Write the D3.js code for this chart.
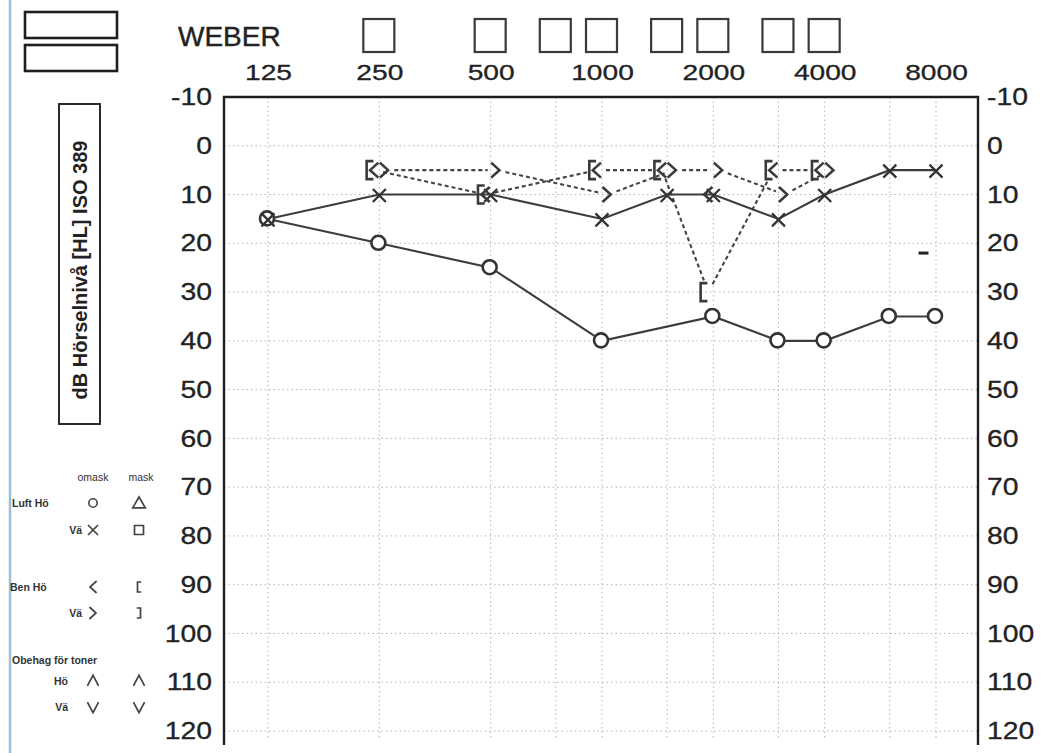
<!DOCTYPE html>
<html>
<head>
<meta charset="utf-8">
<script src="https://cdn.jsdelivr.net/npm/d3@7"></script>
<style>
  html, body { margin: 0; padding: 0; background: #fff; }
  svg { display: block; font-family: "Liberation Sans", Arial, sans-serif; }
</style>
</head>
<body>
<script>
// ---- Audiogram data ----
const freqLabels = [125, 250, 500, 1000, 2000, 4000, 8000];
const gridFreqs = [125, 250, 500, 750, 1000, 1500, 2000, 3000, 4000, 6000, 8000];
const dbTicks = [-10, 0, 10, 20, 30, 40, 50, 60, 70, 80, 90, 100, 110, 120];
const weberFreqs = [250, 500, 750, 1000, 1500, 2000, 3000, 4000];

// Air conduction, right ear (Hö) – circles
const airRightFreq = [125, 250, 500, 1000, 2000, 3000, 4000, 6000, 8000];
const airRightDb   = [15, 20, 25, 40, 35, 40, 40, 35, 35];

// Air conduction, left ear (Vä) – crosses
const airLeftFreq = [125, 250, 500, 1000, 1500, 2000, 3000, 4000, 6000, 8000];
const airLeftDb   = [15, 10, 10, 15, 10, 10, 15, 10, 5, 5];

// Bone conduction, right ear unmasked "<"
const boneRightFreq = [250, 500, 1000, 1500, 2000, 3000, 4000];
const boneRightDb   = [5, 10, 5, 5, 10, 5, 5];
// Bone conduction, right ear masked "["
const boneRightMaskFreq = [250, 500, 1000, 1500, 2000, 3000, 4000];
const boneRightMaskDb   = [5, 10, 5, 5, 30, 5, 5];
// Bone conduction, left ear unmasked ">"
const boneLeftFreq = [250, 500, 1000, 1500, 2000, 3000, 4000];
const boneLeftDb   = [5, 5, 10, 5, 5, 10, 5];

// Loose pen mark on the form
const penMarkFreq = [7400];
const penMarkDb = [22];

const titleBoxLabel = "dB Hörselnivå [HL] ISO 389";
const weberLabel = "WEBER";
const legendHeader = ["omask", "mask"];
const legendRows = [
  { label: "Luft Hö", symbols: ["circle", "triangle"] },
  { label: "Vä", symbols: ["cross", "square"] },
  { label: "Ben Hö", symbols: ["lt", "bracketL"] },
  { label: "Vä", symbols: ["gt", "bracketR"] },
  { label: "Hö", symbols: ["caret", "caret"] },
  { label: "Vä", symbols: ["vee", "vee"] }
];
const legendSection = "Obehag för toner";

// ---- Layout ----
const W = 1044, H = 753;
const plot = { left: 224, right: 978, top: 97, bottom: 745 };
const ink = "#222";

const x = d3.scaleLog().base(2).domain([125, 8000]).range([268, 936]);
const y = d3.scaleLinear().domain([-10, 120]).range([97, 731]);

const svg = d3.select("body").append("svg")
  .attr("width", W).attr("height", H);

svg.append("rect").attr("width", W).attr("height", H).attr("fill", "#fff");

// page edge line
svg.append("line").attr("x1", 10).attr("x2", 10).attr("y1", 0).attr("y2", H)
  .attr("stroke", "#9fbfd2").attr("stroke-width", 2.5);

// two empty header boxes
[[25, 12], [25, 45]].forEach(([bx, by]) => {
  svg.append("rect").attr("x", bx).attr("y", by).attr("width", 92).attr("height", 26)
    .attr("fill", "none").attr("stroke", "#1e1e1e").attr("stroke-width", 2.6);
});

// Weber label and boxes
svg.append("text").attr("x", 178).attr("y", 46).attr("font-size", 28)
  .attr("fill", ink).attr("stroke", ink).attr("stroke-width", 0.4).text(weberLabel);
svg.append("g").selectAll("rect").data(weberFreqs).join("rect")
  .attr("x", d => x(d) - 16).attr("y", 19).attr("width", 31).attr("height", 33)
  .attr("fill", "none").attr("stroke", "#3a3a3a").attr("stroke-width", 2.2);

// ---- Grid ----
const grid = svg.append("g").attr("stroke", "#b5b5b5").attr("stroke-width", 1)
  .attr("stroke-dasharray", "1.5,3");
grid.selectAll("line.v").data(gridFreqs).join("line").attr("class", "v")
  .attr("x1", d => x(d)).attr("x2", d => x(d))
  .attr("y1", plot.top).attr("y2", y(120) + 8);
grid.selectAll("line.h").data(dbTicks.filter(d => d > -10)).join("line").attr("class", "h")
  .attr("x1", plot.left).attr("x2", plot.right)
  .attr("y1", d => y(d)).attr("y2", d => y(d));

// frame
svg.append("path")
  .attr("d", `M${plot.left},${plot.bottom}V${plot.top}H${plot.right}V${plot.bottom}`)
  .attr("fill", "none").attr("stroke", "#1e1e1e").attr("stroke-width", 2.4);

// ---- Axes ----
const plain = d => String(d);

const topAxis = svg.append("g").attr("transform", "translate(0,80)")
  .call(d3.axisTop(x).tickValues(freqLabels).tickFormat(plain).tickSize(0).tickPadding(0));
topAxis.select(".domain").remove();
topAxis.selectAll("text").attr("font-size", 22).attr("fill", ink)
  .attr("stroke", ink).attr("stroke-width", 0.3)
  .attr("font-family", "Liberation Sans, Arial, sans-serif")
  .attr("transform", "scale(1.28,1)");

const leftAxis = svg.append("g").attr("transform", "translate(212,0)")
  .call(d3.axisLeft(y).tickValues(dbTicks).tickFormat(plain).tickSize(0).tickPadding(0));
leftAxis.select(".domain").remove();
leftAxis.selectAll("text").attr("font-size", 24).attr("fill", ink)
  .attr("stroke", ink).attr("stroke-width", 0.3)
  .attr("font-family", "Liberation Sans, Arial, sans-serif")
  .attr("transform", "scale(1.18,1)");

const rightAxis = svg.append("g").attr("transform", "translate(987,0)")
  .call(d3.axisRight(y).tickValues(dbTicks).tickFormat(plain).tickSize(0).tickPadding(0));
rightAxis.select(".domain").remove();
rightAxis.selectAll("text").attr("font-size", 24).attr("fill", ink)
  .attr("stroke", ink).attr("stroke-width", 0.3)
  .attr("font-family", "Liberation Sans, Arial, sans-serif")
  .attr("transform", "scale(1.18,1)");

// Y title box
svg.append("rect").attr("x", 59).attr("y", 104).attr("width", 41).attr("height", 320)
  .attr("fill", "none").attr("stroke", "#2a2a2a").attr("stroke-width", 2);
svg.append("text").attr("transform", "translate(87,270) rotate(-90)")
  .attr("text-anchor", "middle").attr("font-size", 20).attr("font-weight", "bold")
  .attr("fill", ink).text(titleBoxLabel);

// ---- Symbol paths ----
const shapes = {
  cross: s => `M${-s},${-s}L${s},${s}M${-s},${s}L${s},${-s}`,
  lt: s => `M${s * 0.6},${-s}L${-s * 0.5},0L${s * 0.6},${s}`,
  gt: s => `M${-s * 0.6},${-s}L${s * 0.5},0L${-s * 0.6},${s}`,
  bracketL: s => `M${s * 0.45},${-s}H${-s * 0.3}V${s}H${s * 0.45}`,
  bracketR: s => `M${-s * 0.45},${-s}H${s * 0.3}V${s}H${-s * 0.45}`,
  triangle: s => `M0,${-s}L${s * 1.05},${s * 0.8}H${-s * 1.05}Z`,
  square: s => `M${-s},${-s}H${s}V${s}H${-s}Z`,
  caret: s => `M${-s * 0.8},${s * 0.7}L0,${-s * 0.8}L${s * 0.8},${s * 0.7}`,
  vee: s => `M${-s * 0.8},${-s * 0.7}L0,${s * 0.8}L${s * 0.8},${-s * 0.7}`
};

const zip = (fs, ds) => fs.map((f, i) => ({ f, db: ds[i] }));
const airR = zip(airRightFreq, airRightDb);
const airL = zip(airLeftFreq, airLeftDb);
const boneR = zip(boneRightFreq, boneRightDb);
const boneRM = zip(boneRightMaskFreq, boneRightMaskDb);
const boneL = zip(boneLeftFreq, boneLeftDb);

// horizontal nudges for bone glyphs beside the frequency line
const offLt = -5.5, offBracket = -10, offGt = 5;

// ---- Dashed bone conduction lines ----
function trimmedSegments(pts, trim) {
  const segs = [];
  for (let i = 0; i < pts.length - 1; i++) {
    const [x1, y1] = pts[i], [x2, y2] = pts[i + 1];
    const dx = x2 - x1, dy = y2 - y1, len = Math.hypot(dx, dy);
    const ux = dx / len, uy = dy / len;
    segs.push([x1 + ux * trim, y1 + uy * trim, x2 - ux * trim, y2 - uy * trim]);
  }
  return segs;
}
const dashG = svg.append("g").attr("stroke", "#444").attr("stroke-width", 2.1)
  .attr("stroke-dasharray", "4,3").attr("fill", "none");
[
  boneRM.map(d => [x(d.f) - 5, y(d.db)]),
  boneL.map(d => [x(d.f) + offGt + 1, y(d.db)])
].forEach(pts => {
  dashG.append("g").selectAll("line").data(trimmedSegments(pts, 9)).join("line")
    .attr("x1", d => d[0]).attr("y1", d => d[1]).attr("x2", d => d[2]).attr("y2", d => d[3]);
});

// ---- Solid air conduction lines ----
const line = d3.line().x(d => x(d.f)).y(d => y(d.db));
svg.append("path").datum(airL).attr("d", line)
  .attr("fill", "none").attr("stroke", "#3c3c3c").attr("stroke-width", 2.1);
svg.append("path").datum(airR).attr("d", line)
  .attr("fill", "none").attr("stroke", "#3c3c3c").attr("stroke-width", 2.1);

// ---- Markers ----
svg.append("g").selectAll("circle").data(airR).join("circle")
  .attr("cx", d => x(d.f) - 1).attr("cy", d => y(d.db) - 0.5).attr("r", 7)
  .attr("fill", "#fff").attr("stroke", "#333").attr("stroke-width", 2.6);

svg.append("g").selectAll("path").data(airL).join("path")
  .attr("transform", d => `translate(${x(d.f)},${y(d.db) + 1})`)
  .attr("d", shapes.cross(6.5))
  .attr("fill", "none").attr("stroke", "#333").attr("stroke-width", 2.3);

const glyph = (data, shape, off, size) =>
  svg.append("g").selectAll("path").data(data).join("path")
    .attr("transform", d => `translate(${x(d.f) + off},${y(d.db)})`)
    .attr("d", shapes[shape](size))
    .attr("fill", "none").attr("stroke", "#3a3a3a").attr("stroke-width", 2.6)
    .attr("stroke-linejoin", "miter");

glyph(boneRM, "bracketL", offBracket, 9);
glyph(boneR, "lt", offLt, 7.5);
glyph(boneL, "gt", offGt, 7.5);

// stray pen mark
svg.append("g").selectAll("rect").data(zip(penMarkFreq, penMarkDb)).join("rect")
  .attr("x", d => x(d.f) - 5).attr("y", d => y(d.db) - 1.5)
  .attr("width", 10).attr("height", 3).attr("fill", "#222");

// ---- Legend ----
const lg = svg.append("g").attr("font-size", 10.5).attr("font-weight", "bold").attr("fill", "#333");
lg.selectAll("text.hdr").data(legendHeader).join("text").attr("class", "hdr")
  .attr("x", (d, i) => [93, 141][i]).attr("y", 481).attr("text-anchor", "middle")
  .attr("font-weight", "normal").text(d => d);

const rowY = [503, 530, 587, 613, 681, 707];
const rowLabelX = [12, 82, 10, 82, 68, 68];
lg.selectAll("text.row").data(legendRows).join("text").attr("class", "row")
  .attr("x", (d, i) => rowLabelX[i]).attr("y", (d, i) => rowY[i] + 4)
  .attr("text-anchor", (d, i) => (i === 0 || i === 2) ? "start" : "end")
  .text(d => d.label);
lg.append("text").attr("x", 12).attr("y", 664).text(legendSection);

legendRows.forEach((row, i) => {
  row.symbols.forEach((s, j) => {
    const cx = [93, 139][j], cy = rowY[i];
    if (s === "circle") {
      svg.append("circle").attr("cx", cx).attr("cy", cy).attr("r", 4.2)
        .attr("fill", "none").attr("stroke", "#444").attr("stroke-width", 1.6);
    } else {
      const size = { cross: 5, triangle: 6, square: 4.5, lt: 6, gt: 6, bracketL: 5, bracketR: 5, caret: 7, vee: 7 }[s];
      svg.append("path").attr("transform", `translate(${cx},${cy})`)
        .attr("d", shapes[s](size)).attr("fill", "none")
        .attr("stroke", "#444").attr("stroke-width", 1.7);
    }
  });
});
</script>
</body>
</html>
